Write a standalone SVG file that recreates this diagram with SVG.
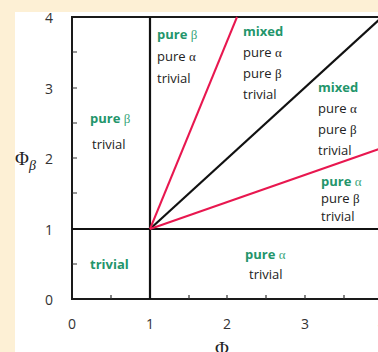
<svg xmlns="http://www.w3.org/2000/svg" width="378" height="352" viewBox="0 0 378 352">
<defs>
<style>
.t{font-family:"Open Sans","Liberation Sans",sans-serif;font-size:13px;fill:#222}
.g{font-family:"Open Sans","Liberation Sans",sans-serif;font-size:13px;fill:#23956b;font-weight:bold}
.gr{font-weight:normal;font-family:"Liberation Serif",serif;fill:#3aa67c}
.k{font-family:"Liberation Serif",serif}
.n{font-family:"Open Sans","Liberation Sans",sans-serif;font-size:14px;fill:#333}
.ax{stroke:#1a1a1a;stroke-width:2;fill:none}
.tk{stroke:#333;stroke-width:1.2}
.blk{stroke:#111;stroke-width:2.2}
.red{stroke:#e8174f;stroke-width:2}
</style>
</defs>
<rect x="0" y="0" width="378" height="352" fill="#fdf0d5"/>
<rect x="15" y="12" width="363" height="340" fill="#ffffff"/>
<g id="axes">
<path class="ax" d="M380,17 H72 V299 H380"/>
<g class="tk">
<path d="M72,52 h5 M72,88 h5 M72,123 h5 M72,158 h5 M72,193 h5 M72,264 h5"/>
<path d="M111,299 v-4 M189,299 v-4 M227,299 v-4 M266,299 v-4 M305,299 v-4 M344,299 v-4"/>
</g>
<g class="n" text-anchor="end">
<text x="53" y="23">4</text>
<text x="53" y="94">3</text>
<text x="53" y="164">2</text>
<text x="53" y="235">1</text>
<text x="53" y="305">0</text>
</g>
<g class="n" text-anchor="middle">
<text x="72" y="329">0</text>
<text x="150" y="329">1</text>
<text x="227" y="329">2</text>
<text x="305" y="329">3</text>
<text x="382" y="329">4</text>
</g>
<text x="15" y="165" font-family="Liberation Serif,serif" font-size="19" fill="#222">Φ<tspan font-size="14" font-style="italic" dy="5">β</tspan></text>
<text x="215" y="355" font-family="Liberation Serif,serif" font-size="19" fill="#222">Φ<tspan font-size="14" font-style="italic" dy="5">α</tspan></text>
</g>
<g id="connectors">
<line class="blk" x1="150" y1="17" x2="150" y2="299"/>
<line class="blk" x1="72" y1="229" x2="380" y2="229"/>
<line class="blk" x1="150" y1="229" x2="382" y2="17"/>
<line class="red" x1="150" y1="229" x2="237" y2="17"/>
<line class="red" x1="150" y1="229" x2="382" y2="148"/>
</g>
<g id="region-left">
<text class="g" x="90" y="123">pure <tspan class="gr">β</tspan></text>
<text class="t" x="92" y="149">trivial</text>
</g>
<g id="region-top">
<text class="g" x="157" y="39">pure <tspan class="gr">β</tspan></text>
<text class="t" x="157" y="61">pure <tspan class="k">α</tspan></text>
<text class="t" x="157" y="83">trivial</text>
</g>
<g id="region-mixed1">
<text class="g" x="243" y="36">mixed</text>
<text class="t" x="243" y="57">pure <tspan class="k">α</tspan></text>
<text class="t" x="243" y="78">pure <tspan class="k">β</tspan></text>
<text class="t" x="243" y="99">trivial</text>
</g>
<g id="region-mixed2">
<text class="g" x="318" y="92">mixed</text>
<text class="t" x="318" y="113">pure <tspan class="k">α</tspan></text>
<text class="t" x="318" y="134">pure <tspan class="k">β</tspan></text>
<text class="t" x="318" y="155">trivial</text>
</g>
<g id="region-right">
<text class="g" x="321" y="186">pure <tspan class="gr">α</tspan></text>
<text class="t" x="321" y="203">pure <tspan class="k">β</tspan></text>
<text class="t" x="321" y="221">trivial</text>
</g>
<g id="region-bottom">
<text class="g" x="245" y="259">pure <tspan class="gr">α</tspan></text>
<text class="t" x="249" y="279">trivial</text>
</g>
<g id="region-trivial">
<text class="g" x="90" y="269">trivial</text>
</g>
</svg>
